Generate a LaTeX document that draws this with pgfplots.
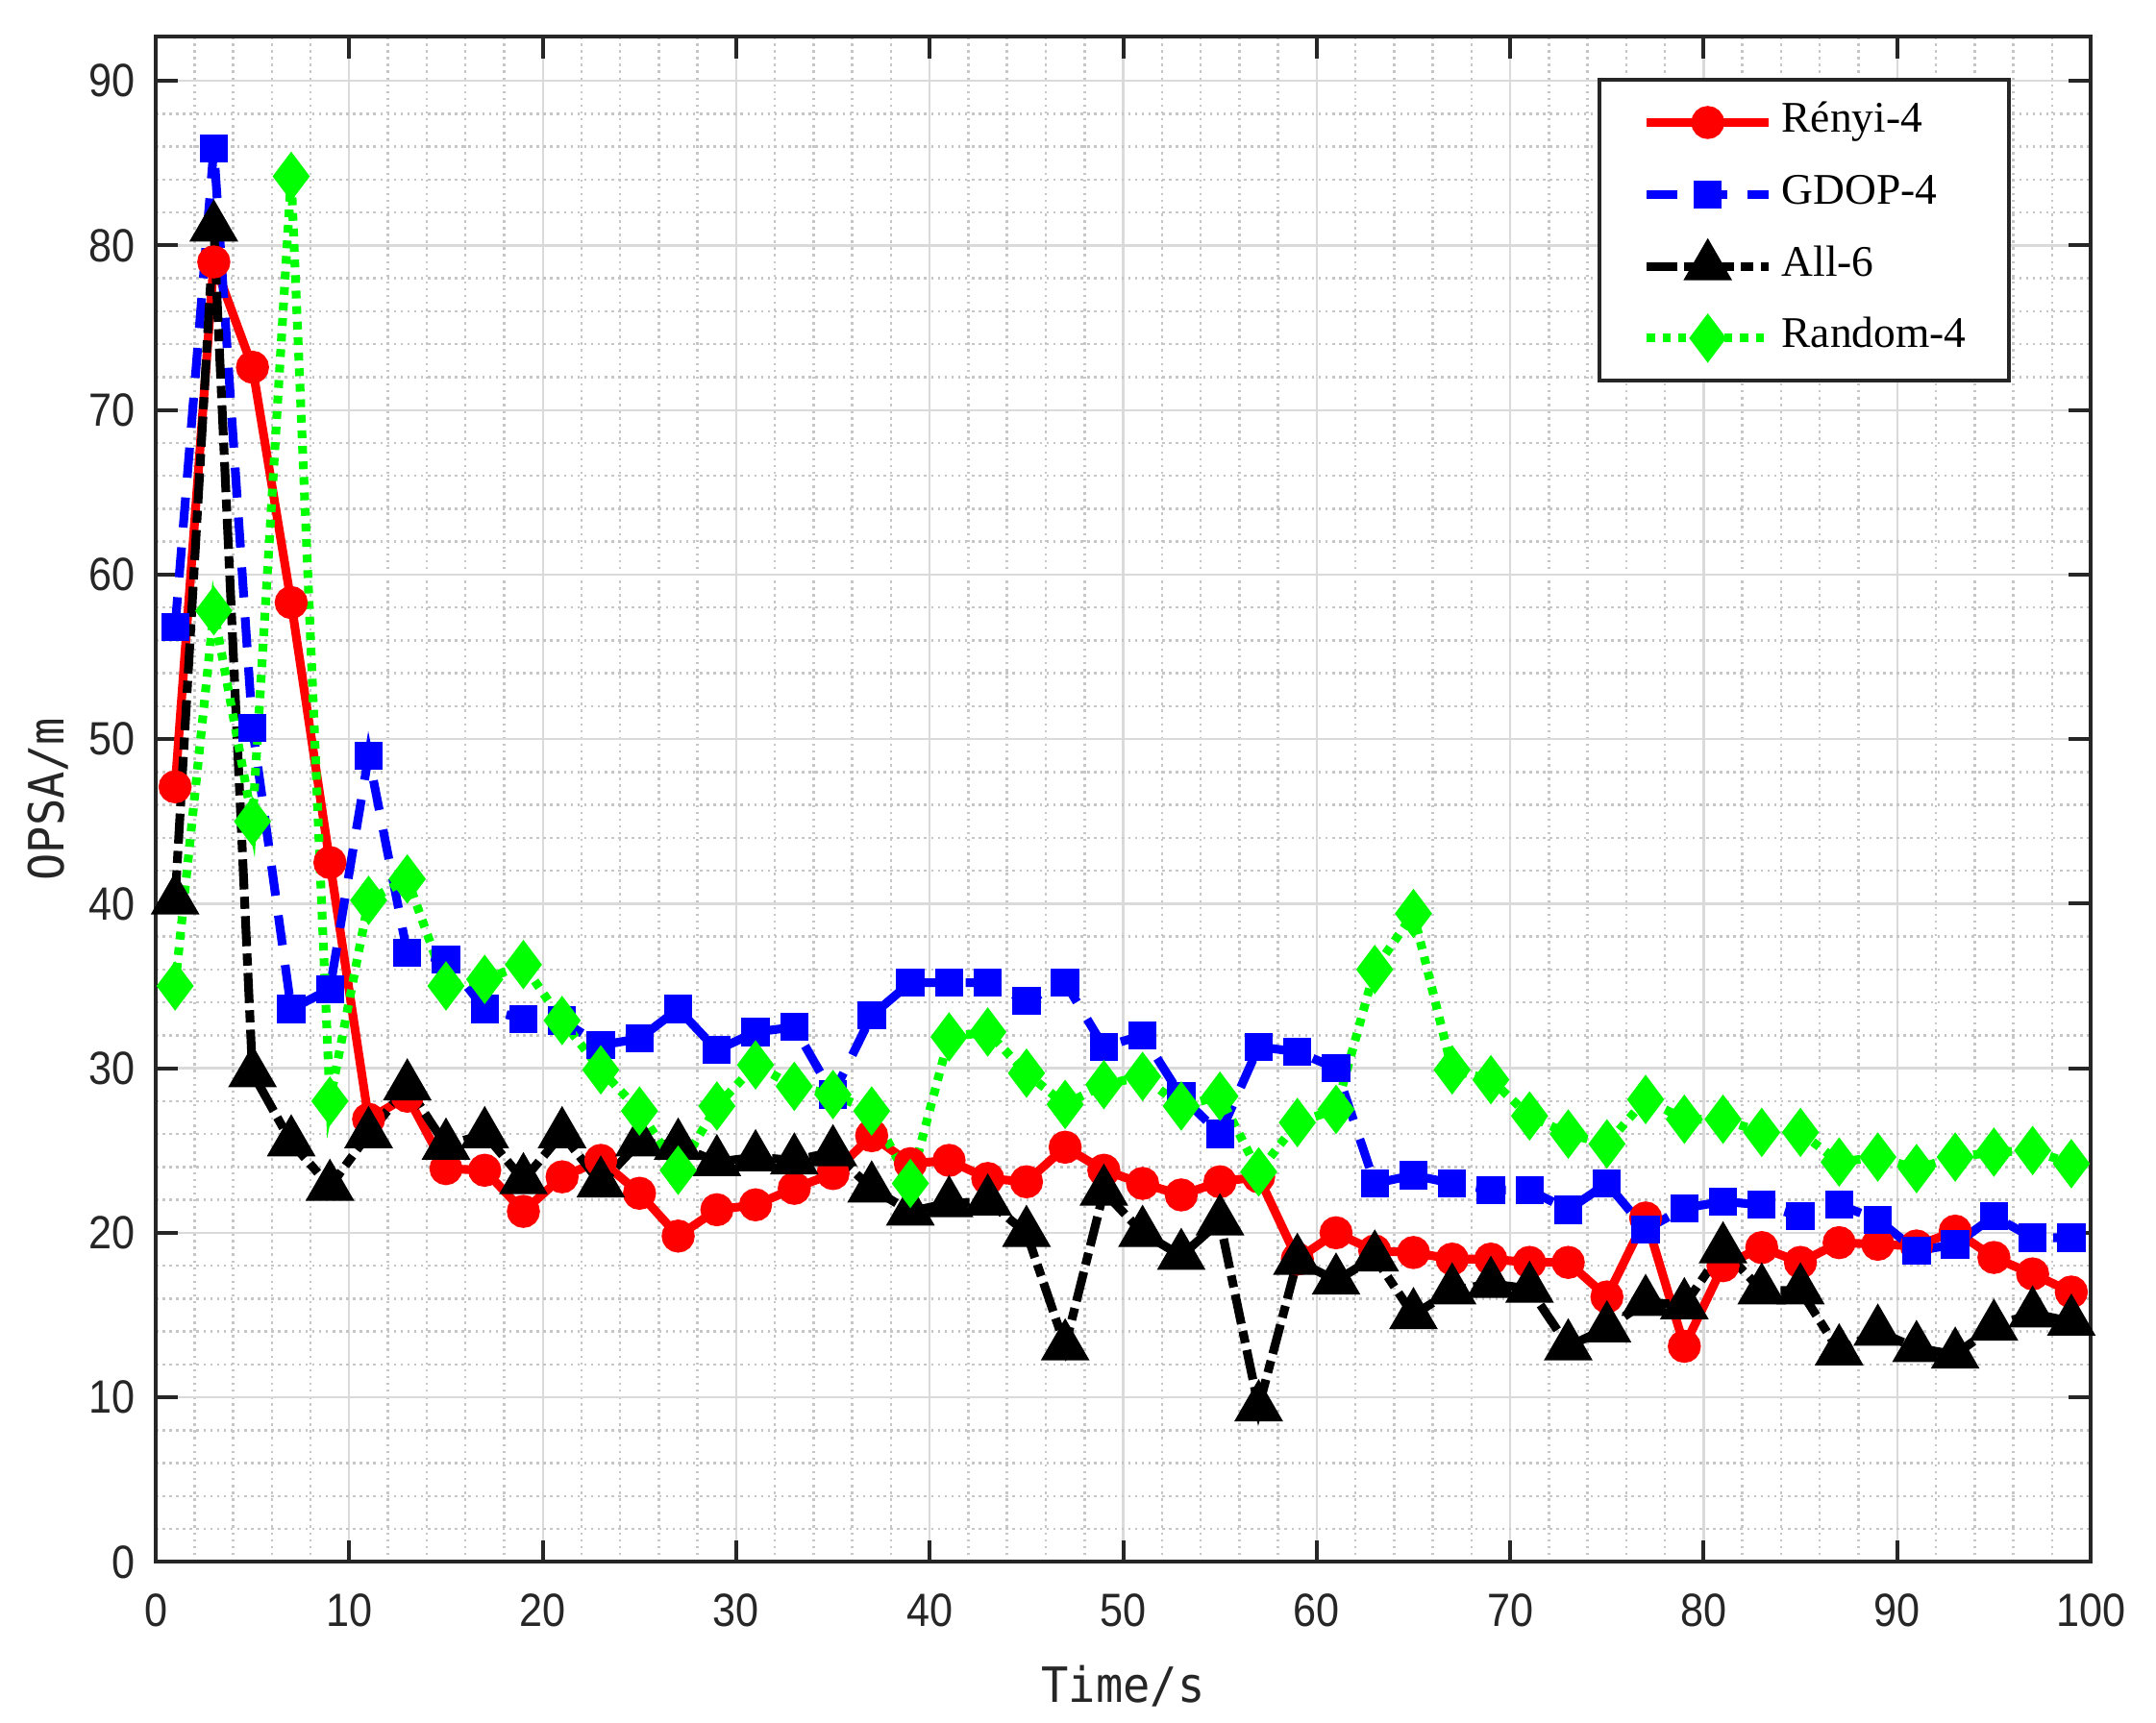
\documentclass[border=0pt]{standalone}
\usepackage{fontspec}
\setmainfont{Liberation Serif}
\newfontfamily\tickfont[FakeStretch=0.89]{Liberation Sans}
\newfontfamily\labfont[FakeStretch=0.93]{DejaVu Sans Mono}
\usepackage{pgfplots}
\pgfplotsset{compat=1.18}
\definecolor{axgray}{RGB}{38,38,38}
\definecolor{majgrid}{RGB}{218,218,218}
\definecolor{mingrid}{RGB}{198,198,198}
\begin{document}
\begin{tikzpicture}
\begin{axis}[
  at={(0,0)}, anchor=south west,
  scale only axis, width=14.0cm, height=11.04cm,
  xmin=0, xmax=100, ymin=0, ymax=92.7,
  xtick={0,10,...,100}, ytick={0,10,...,90},
  minor x tick num=4, minor y tick num=4,
  grid=both,
  major grid style={color=majgrid, line width=0.45pt},
  minor grid style={color=mingrid, line width=0.5pt, dash pattern=on 0.5pt off 0.9pt},
  tick align=inside,
  major tick length=4.5pt, minor tick length=0pt,
  axis line style={color=axgray, line width=0.8pt},
  every tick/.style={color=axgray, line width=0.8pt},
  /pgf/number format/assume math mode=true,
  tick label style={font=\tickfont\fontsize{9.6}{11}\selectfont, color=axgray},
  xticklabel style={inner sep=0pt, anchor=north, yshift=-6.3pt},
  yticklabel style={inner sep=0pt, anchor=east, xshift=-4pt},
  xlabel={Time/s}, ylabel={OPSA/m},
  label style={font=\labfont\fontsize{10}{12}\selectfont, color=axgray},
  xlabel style={at={(axis description cs:0.5,-0.0813)}, anchor=center},
  ylabel style={at={(axis description cs:-0.0556,0.5)}, anchor=center, rotate=0},
  legend style={at={(0.9588,0.9729)}, anchor=north east,
    draw=axgray, line width=0.8pt, fill=white,
    font=\fontsize{9}{11}\selectfont,
    inner xsep=8.8pt, inner ysep=4.3pt,
    row sep=5.8pt, column sep=1.8pt,
    nodes={inner sep=0pt, text height=6.5pt, text depth=2.5pt}},
  legend cell align=left,
  legend image code/.code={\draw[mark repeat=2, mark phase=2, #1] plot coordinates {(0cm,0cm) (0.44cm,0cm) (0.88cm,0cm)};},
]
\addplot[color=red, line width=1.8pt, mark=*, mark size=2.5pt, mark options={solid, fill=red}] coordinates {
(1,47.1)(3,79.0)(5,72.6)(7,58.3)(9,42.5)(11,26.9)(13,28.3)(15,23.9)(17,23.8)(19,21.3)
(21,23.4)(23,24.4)(25,22.4)(27,19.8)(29,21.4)(31,21.7)(33,22.7)(35,23.6)(37,25.9)(39,24.2)
(41,24.4)(43,23.3)(45,23.1)(47,25.2)(49,23.8)(51,23.0)(53,22.3)(55,23.1)(57,23.4)(59,18.4)
(61,20.0)(63,18.9)(65,18.8)(67,18.4)(69,18.4)(71,18.2)(73,18.2)(75,16.1)(77,20.9)(79,13.1)
(81,18.0)(83,19.1)(85,18.2)(87,19.4)(89,19.3)(91,19.2)(93,20.1)(95,18.5)(97,17.5)(99,16.4)};
\addlegendentry{Rényi-4}
\addplot[color=blue, line width=1.8pt, dash pattern=on 6.2pt off 4.1pt, mark=square*, mark size=2.0pt, mark options={solid, fill=blue}] coordinates {
(1,56.8)(3,85.9)(5,50.7)(7,33.6)(9,34.8)(11,49.0)(13,37.0)(15,36.6)(17,33.6)(19,33.0)
(21,32.9)(23,31.4)(25,31.8)(27,33.6)(29,31.1)(31,32.2)(33,32.5)(35,28.4)(37,33.2)(39,35.2)
(41,35.2)(43,35.2)(45,34.1)(47,35.2)(49,31.3)(51,32.0)(53,28.3)(55,26.0)(57,31.3)(59,31.0)
(61,30.0)(63,23.0)(65,23.5)(67,23.0)(69,22.6)(71,22.6)(73,21.4)(75,23.0)(77,20.2)(79,21.5)
(81,21.9)(83,21.7)(85,21.0)(87,21.7)(89,20.8)(91,18.9)(93,19.3)(95,21.0)(97,19.7)(99,19.7)};
\addlegendentry{GDOP-4}
\addplot[color=black, line width=1.8pt, dash pattern=on 6.2pt off 1.5pt on 2.5pt off 1.5pt, mark=triangle*, mark size=4pt, mark options={solid, fill=black}] coordinates {
(1,40.2)(3,81.1)(5,29.7)(7,25.5)(9,22.8)(11,26.0)(13,28.9)(15,25.3)(17,26.0)(19,23.2)
(21,26.0)(23,23.0)(25,25.5)(27,25.3)(29,24.3)(31,24.6)(33,24.4)(35,24.9)(37,22.7)(39,21.3)
(41,21.8)(43,21.9)(45,20.0)(47,13.1)(49,22.5)(51,20.0)(53,18.6)(55,20.7)(57,9.4)(59,18.3)
(61,17.1)(63,18.5)(65,15.0)(67,16.5)(69,16.9)(71,16.6)(73,13.1)(75,14.2)(77,15.8)(79,15.6)
(81,19.0)(83,16.5)(85,16.5)(87,12.8)(89,14.0)(91,13.0)(93,12.6)(95,14.3)(97,15.1)(99,14.6)};
\addlegendentry{All-6}
\addplot[color=green, line width=1.8pt, line cap=butt, dash pattern=on 1.6pt off 1.6pt, mark=diamond*, mark size=3.6pt, mark options={solid, fill=green}] coordinates {
(1,35.0)(3,57.8)(5,45.0)(7,84.2)(9,28.0)(11,40.2)(13,41.5)(15,35.0)(17,35.4)(19,36.3)
(21,32.9)(23,29.9)(25,27.4)(27,23.8)(29,27.7)(31,30.2)(33,28.9)(35,28.4)(37,27.4)(39,23.0)
(41,31.9)(43,32.2)(45,29.7)(47,27.8)(49,29.0)(51,29.5)(53,27.7)(55,28.3)(57,23.7)(59,26.7)
(61,27.5)(63,36.0)(65,39.4)(67,29.9)(69,29.3)(71,27.1)(73,26.0)(75,25.4)(77,28.1)(79,26.9)
(81,26.9)(83,26.1)(85,26.1)(87,24.3)(89,24.6)(91,23.9)(93,24.6)(95,24.9)(97,25.0)(99,24.2)};
\addlegendentry{Random-4}
\end{axis}
\pgfresetboundingbox
\path[use as bounding box] (-1.127cm,-1.161cm) rectangle (14.473cm,11.304cm);
\end{tikzpicture}
\end{document}
